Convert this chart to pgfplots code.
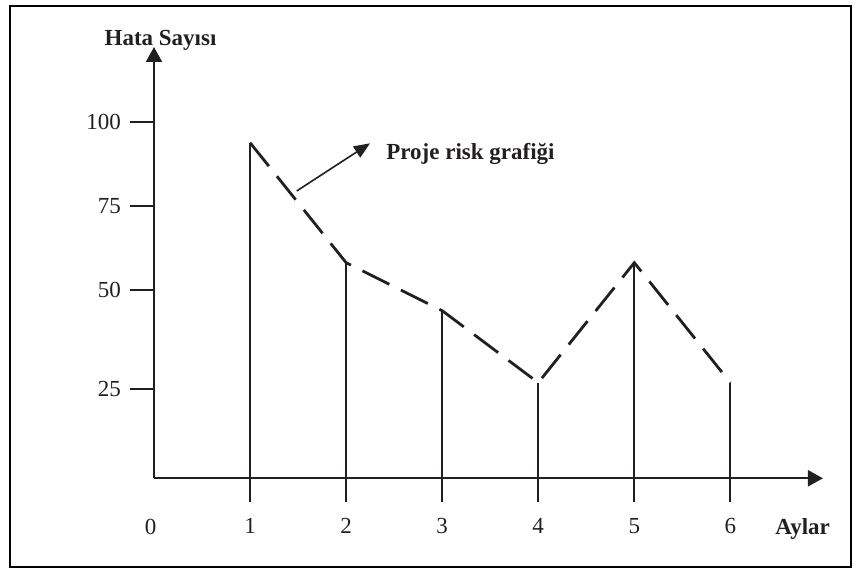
\documentclass[border=0pt]{standalone}
\usepackage{fontspec}
\setmainfont{Liberation Serif}
\usepackage{pgfplots}
\pgfplotsset{compat=1.18}
\usetikzlibrary{arrows.meta}
\definecolor{ink}{RGB}{35,31,32}
\newcommand{\lbl}{\fontsize{11.5}{13}\selectfont}
\begin{document}
\begin{tikzpicture}
\begin{axis}[
  anchor=origin, at={(0,0)},
  x=48.03pt, y=1.783pt,
  xmin=0, xmax=6.964, ymin=0, ymax=120.95,
  axis lines=left,
  axis line style={ink, line width=1pt},
  every outer x axis line/.append style={-{Triangle[length=7.5pt,width=8pt]}},
  every outer y axis line/.append style={-{Triangle[length=7.5pt,width=8pt]}},
  clip=false,
  xtick={1,2,3,4,5,6},
  ytick={24.96,52.72,76.44,100},
  yticklabels={25,50,75,100},
  tick align=outside,
  major tick length=12pt,
  tick style={ink, line width=0.9pt},
  every tick label/.append style={font=\lbl, text=ink},
  xticklabel style={yshift=-4.5pt},
  yticklabel style={xshift=-1pt},
  /pgf/number format/assume math mode=true,
]
\addplot[ycomb, ink, line width=0.95pt, mark=none] coordinates {
  (1,94.11) (2,60.46) (3,47.0) (4,26.81) (5,60.46) (6,26.81)
};
\addplot[ink, line width=1.4pt, dash pattern=on 15pt off 6.5pt, mark=none] coordinates {
  (1,94.11) (2,60.46) (3,47.0) (4,26.81) (5,60.46) (6,26.81)
};
\draw[ink, line width=0.8pt, -{Triangle[length=8pt,width=6.5pt]}] (axis cs:1.4856,80.57) -- (axis cs:2.2486,93.94);
\node[anchor=base west, font=\lbl\bfseries, text=ink, inner sep=0pt] at (axis cs:2.415,89.26) {Proje risk grafiği};
\node[anchor=base, font=\lbl\bfseries, text=ink, inner sep=0pt] at (axis cs:0.068,121.37) {Hata Sayısı};
\node[anchor=base west, font=\lbl\bfseries, text=ink, inner sep=0pt] at (axis cs:6.465,-15.62) {Aylar};
\node[anchor=base, font=\lbl, text=ink, inner sep=0pt] at (axis cs:-0.036,-15.7) {0};
\draw[black, line width=1pt] (axis cs:-1.499,-24.87) rectangle (axis cs:7.256,132.45);
\coordinate (bbA) at (axis cs:-1.6032,-25.154);
\coordinate (bbB) at (axis cs:7.3183,134.13);
\end{axis}
\pgfresetboundingbox
\path (bbA) rectangle (bbB);
\end{tikzpicture}
\end{document}
